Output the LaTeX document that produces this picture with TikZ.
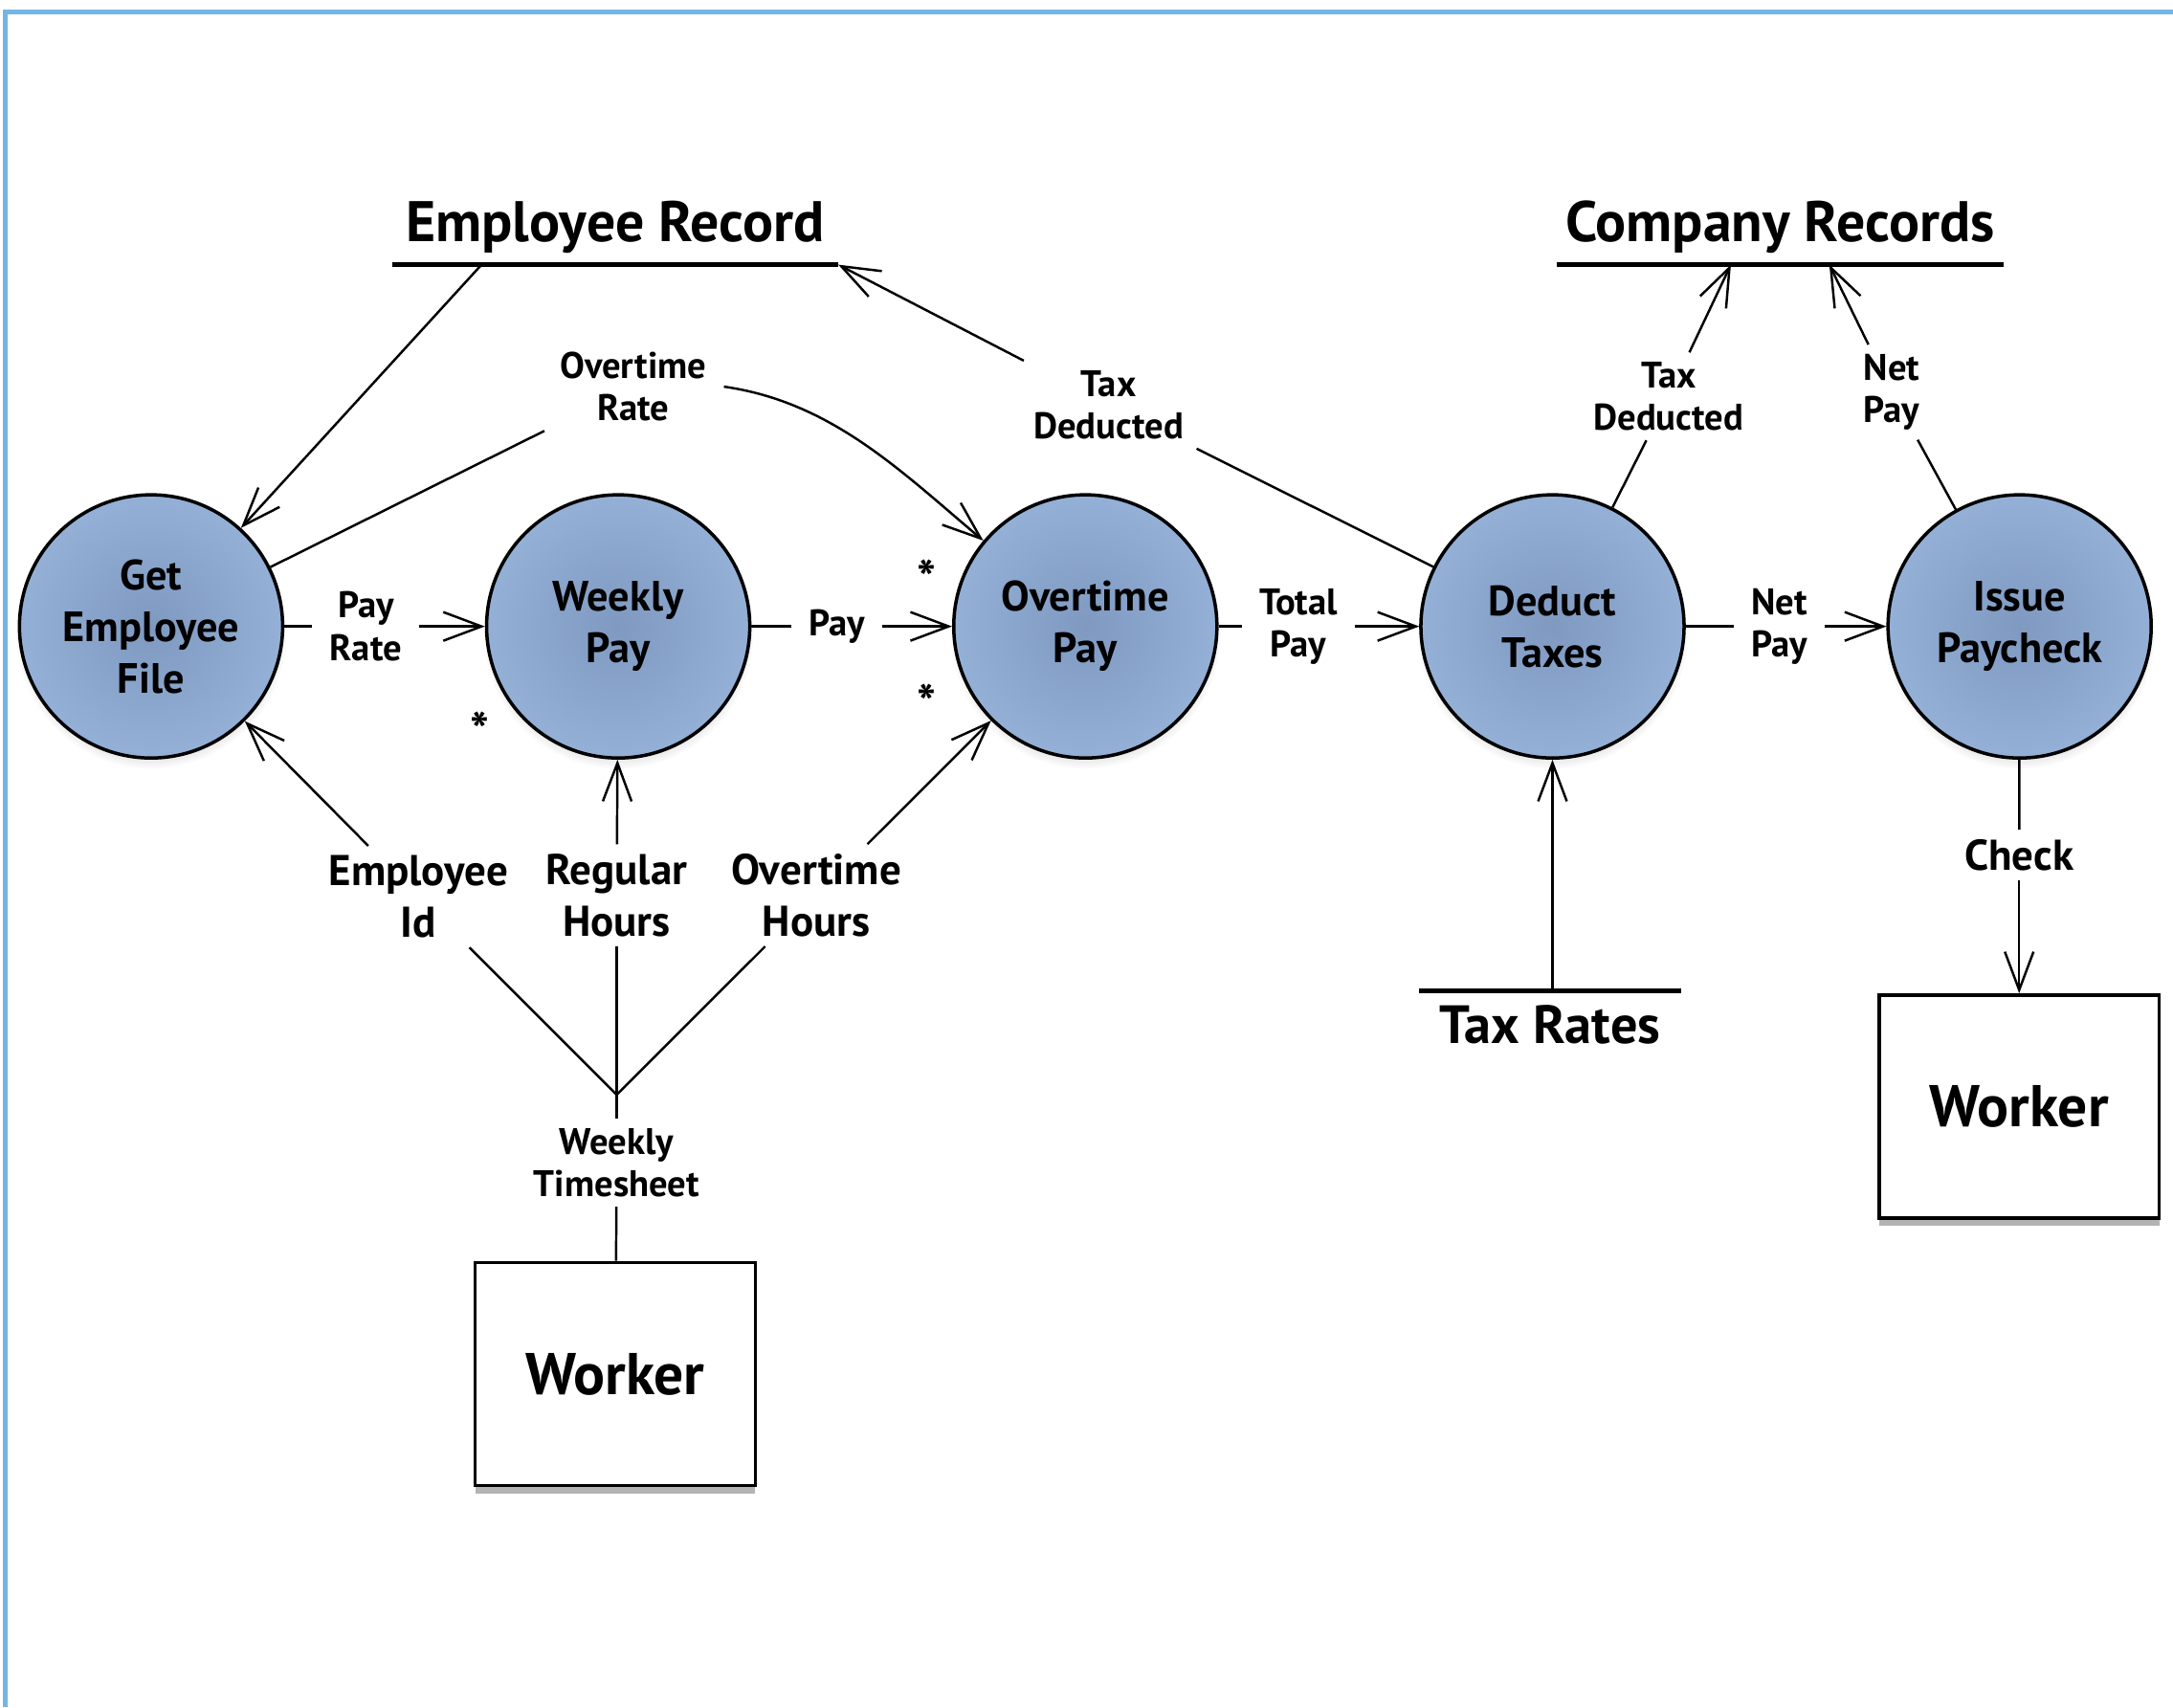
\documentclass[tikz,border=0pt]{standalone}
\usepackage{fontspec}
\setmainfont{PT Sans}
\usetikzlibrary{positioning,calc,shadows,arrows.meta}
\definecolor{procblue}{HTML}{94B0D6}
\definecolor{procdark}{HTML}{7F99C1}
\definecolor{frameblue}{HTML}{74B5E4}
\begin{document}
\begin{tikzpicture}[x=0.014484cm, y=-0.014484cm, node distance={48.81mm}, line width=0.7pt,
  >={Straight Barb[length=4mm,width=3mm]},
  main/.style = {draw, circle, line width=1pt, minimum size=27.5mm, inner color=procdark, outer color=procblue, align=center, font=\fontsize{12.6}{15.4}\selectfont\bfseries, circular drop shadow={shadow xshift=0pt, shadow yshift=-0.7mm, shadow scale=1.03, opacity=0.35}},
  store/.style = {minimum width=46.35mm, inner xsep=0pt, inner ysep=3pt, font=\fontsize{17}{20}\selectfont\bfseries},
  worker/.style = {draw, fill=white, line width=1pt, minimum width=29.26mm, minimum height=23.32mm, font=\fontsize{17.5}{20}\selectfont\bfseries, drop shadow={shadow xshift=0pt, shadow yshift=-0.8mm, opacity=0.6}},
  flow/.style = {align=center, inner xsep=1.7mm, inner ysep=2.5pt, font=\fontsize{11}{12.6}\selectfont\bfseries},
  bigflow/.style = {flow, font=\fontsize{12.8}{15.4}\selectfont\bfseries},
  star/.style = {inner sep=0pt, font=\fontsize{15}{15}\selectfont\bfseries}]
\useasboundingbox (0,0) rectangle (1568,1232);
\draw[frameblue, line width=1.4pt] (3.8,1232) -- (3.8,8.5) -- (1568,8.5);

% processes
\node[main] (1) at (109,452) {Get\\Employee\\File};
\node[main] (2) [right of=1] {Weekly\\Pay};
\node[main] (3) [right of=2] {Overtime\\Pay};
\node[main] (4) [right of=3] {Deduct\\Taxes};
\node[main] (5) [right of=4] {Issue\\Paycheck};

% stores and workers
\node[store, anchor=south] (6) at (444,191) {Employee Record};
\node[store, anchor=south, minimum width=46.5mm] (7) at (1284.5,191) {Company Records};
\node[store, anchor=north, minimum width=27.1mm, inner ysep=4pt, font=\fontsize{16}{19}\selectfont\bfseries] (8) at (1118.5,715) {Tax Rates};
\draw[line width=1.3pt] (6.south west) -- (6.south east);
\draw[line width=1.3pt] (7.south west) -- (7.south east);
\draw[line width=1.3pt] (8.north west) -- (8.north east);
\node[worker] (9) at (444,991.5) {Worker};
\node[worker] (10) at (1457,798.5) {Worker};

% flow labels
\node[flow] (11) at (264,452) {Pay\\Rate};
\node[flow] (12) at (604,452) {Pay};
\node[flow] (13) at (937,452) {Total\\Pay};
\node[flow] (14) at (1284,452) {Net\\Pay};
\node[flow] (15) at (457,279) {Overtime\\Rate};
\node[flow] (16) at (800,292) {Tax\\Deducted};
\node[flow] (17) at (1204,286) {Tax\\Deducted};
\node[flow] (18) at (1365,283) {Net\\Pay};
\node[bigflow] (19) at (1457,617) {Check};
\node[bigflow] (20) at (302,647) {Employee\\Id};
\node[bigflow] (21) at (445,646) {Regular\\Hours};
\node[bigflow] (22) at (589,646) {Overtime\\Hours};
\node[flow] (23) at (445,839) {Weekly\\Timesheet};
\coordinate (24) at (445,790);
\node[star] (25) at (346,527) {*};
\node[star] (26) at (669,417) {*};
\node[star] (27) at (669,507) {*};

\draw (1) -- (11);
\draw[->] (11) -- (2);
\draw (2) -- (12);
\draw[->] (12) -- (3);
\draw (3) -- (13);
\draw[->] (13) -- (4);
\draw (4) -- (14);
\draw[->] (14) -- (5);

\draw[->] ($(6.south west)!0.2!(6.south east)$) -- (1);
\draw (1) -- (15);
\draw[->] (15.east) .. controls (600,290) and (650,340) .. (3);
\draw (4) -- (16);
\draw[->] (16) -- (6.south east);
\draw (4) -- (17);
\draw[->] (17) -- ($(7.south west)!0.39!(7.south east)$);
\draw (5) -- (18);
\draw[->] (18) -- ($(7.south west)!0.61!(7.south east)$);
\draw (5) -- (19);
\draw[->] (19) -- (10);
\draw[->] (8.north -| 4) -- (4);

\draw (9) -- (23);
\draw (23) -- (24);
\draw (24) -- (20);
\draw[->] (20) -- (1);
\draw (24) -- (21);
\draw[->] (21) -- (2);
\draw (24) -- (22);
\draw[->] (22) -- (3);

\end{tikzpicture}
\end{document}
